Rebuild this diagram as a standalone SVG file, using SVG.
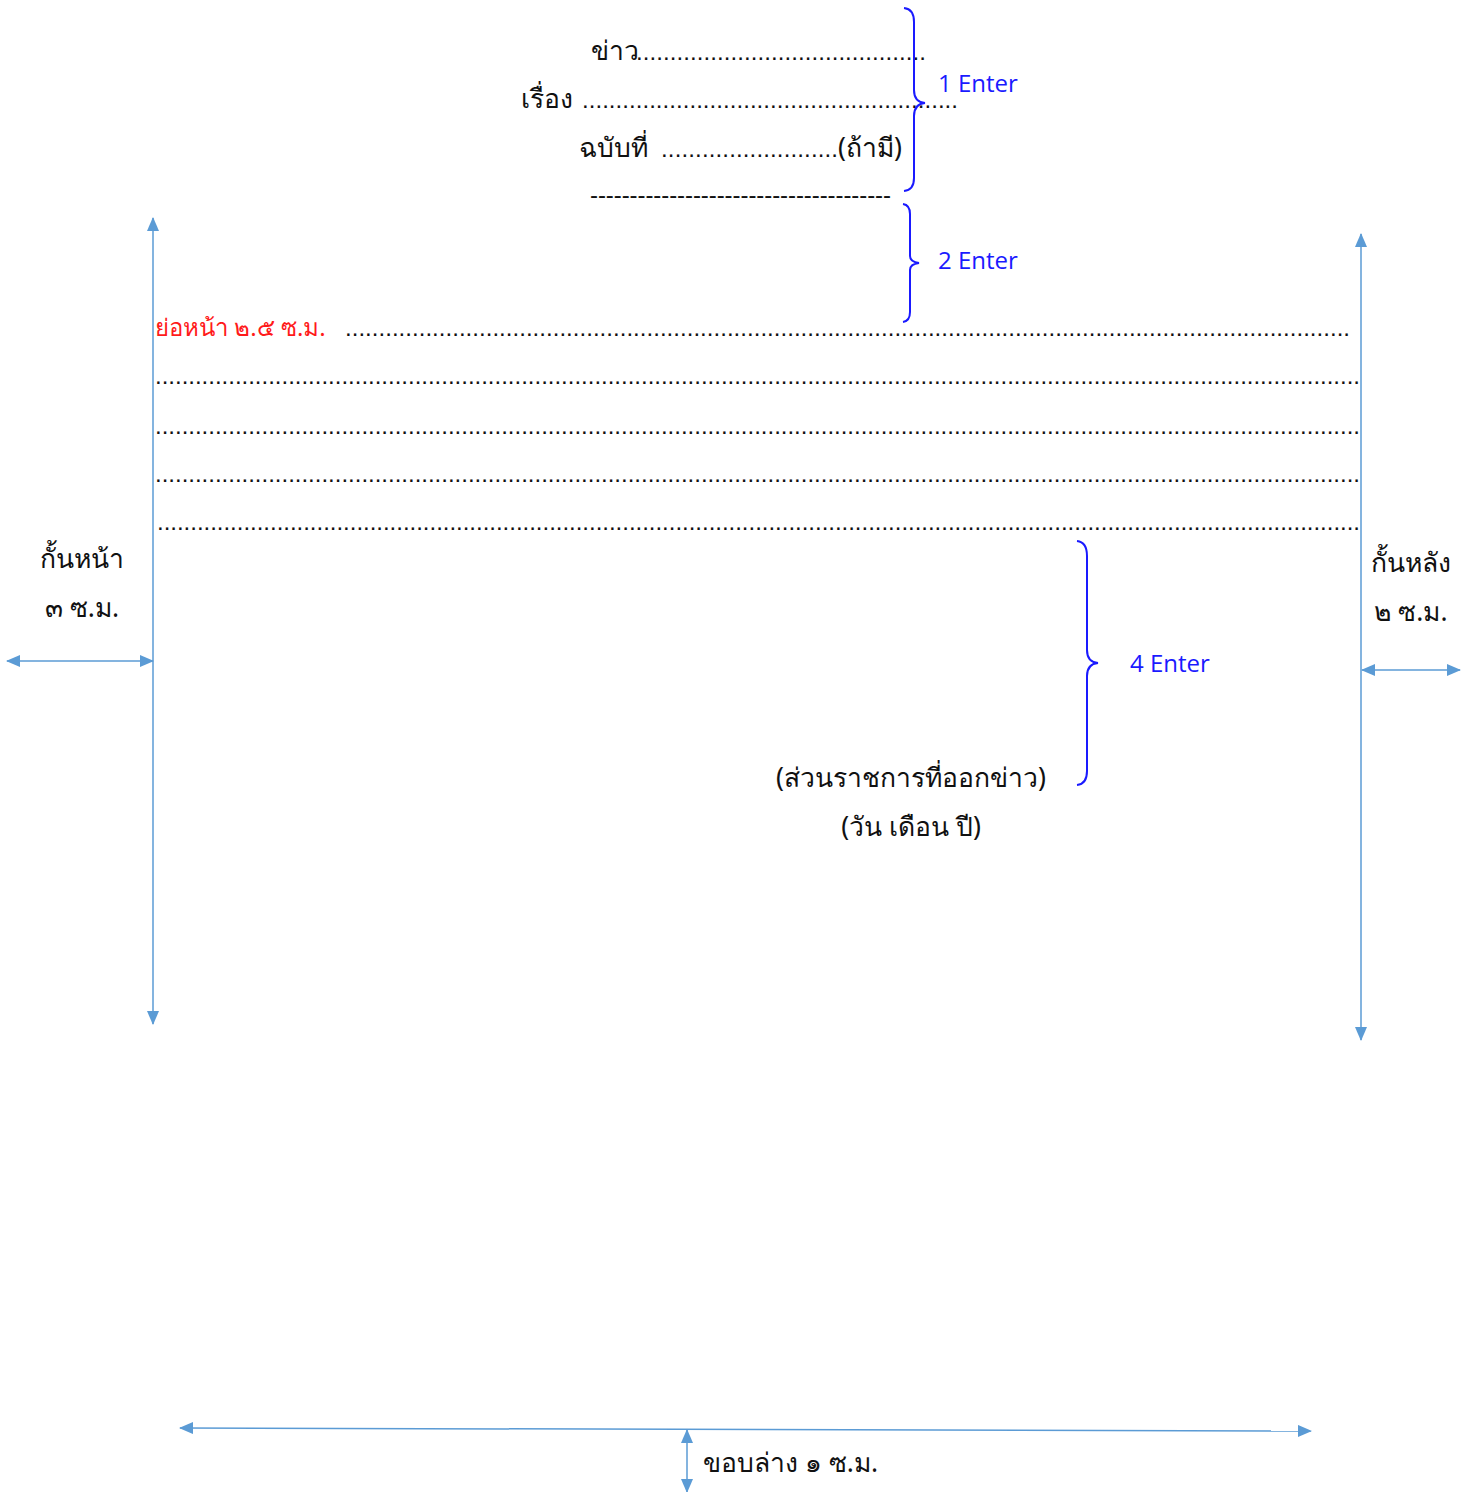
<svg xmlns="http://www.w3.org/2000/svg" width="1473" height="1492" viewBox="0 0 1473 1492">
<style>
.th{font-family:"Noto Sans","DejaVu Sans",sans-serif;font-size:26.5px;fill:#111}
.en{font-family:"Open Sans","Noto Sans",sans-serif;font-size:24px;fill:#1a1aff}
.red{font-family:"Noto Sans","DejaVu Sans",sans-serif;font-size:24px;fill:#ff1a1a}
.dots{font-family:"Liberation Sans",sans-serif;font-size:24px;fill:#111}
.brace{fill:none;stroke:#1a1aff;stroke-width:2}
.arr{stroke:#5b9bd5;stroke-width:1.5;fill:none}
</style>
<defs>
<marker id="ah" viewBox="0 0 14 12" refX="13" refY="6" markerWidth="14" markerHeight="12" markerUnits="userSpaceOnUse" orient="auto-start-reverse">
<path d="M0,0 L14,6 L0,12 Z" fill="#5b9bd5"/>
</marker>
</defs>
<g id="header">
<text class="th" x="591" y="60">ข่าว</text>
<text class="dots" x="636" y="60" textLength="290" lengthAdjust="spacing">...........................................</text>
<text class="th" x="521" y="108">เรื่อง</text>
<text class="dots" x="582" y="108" textLength="376" lengthAdjust="spacing">........................................................</text>
<text class="th" x="579" y="157">ฉบับที่</text>
<text class="dots" x="661" y="157" textLength="177" lengthAdjust="spacing">..........................</text>
<text class="th" x="838" y="157">(ถ้ามี)</text>
<text class="dots" x="590" y="203" textLength="301" lengthAdjust="spacing">--------------------------------------</text>
</g>
<g id="brace1">
<path class="brace" d="M904,8 Q914,9 914,22 L914,90 Q914,102 925,103 Q914,104 914,116 L914,178 Q914,190 904,191"/>
<text class="en" x="938" y="92">1 Enter</text>
</g>
<g id="brace2">
<path class="brace" d="M903,204 Q910,205 910,214 L910,256 Q910,262 919,263 Q910,264 910,270 L910,312 Q910,321 903,322"/>
<text class="en" x="938" y="269">2 Enter</text>
</g>
<g id="body">
<text class="red" x="155" y="336">ย่อหน้า ๒.๕ ซ.ม.</text>
<text class="dots" x="345" y="336" textLength="1005" lengthAdjust="spacing">......................................................................................................................................................</text>
<text class="dots" x="155" y="384" textLength="1205" lengthAdjust="spacing">.....................................................................................................................................................................................</text>
<text class="dots" x="155" y="434" textLength="1205" lengthAdjust="spacing">.....................................................................................................................................................................................</text>
<text class="dots" x="155" y="482" textLength="1205" lengthAdjust="spacing">.....................................................................................................................................................................................</text>
<text class="dots" x="157" y="530" textLength="1203" lengthAdjust="spacing">.....................................................................................................................................................................................</text>
</g>
<g id="brace4">
<path class="brace" d="M1077,541 Q1087,542 1087,556 L1087,650 Q1087,662 1098,663 Q1087,664 1087,676 L1087,771 Q1087,784 1077,785"/>
<text class="en" x="1130" y="672">4 Enter</text>
</g>
<g id="signature">
<text class="th" x="911" y="787" text-anchor="middle">(ส่วนราชการที่ออกข่าว)</text>
<text class="th" x="911" y="836" text-anchor="middle">(วัน เดือน ปี)</text>
</g>
<g id="left-margin">
<text class="th" x="82" y="568" text-anchor="middle">กั้นหน้า</text>
<text class="th" x="82" y="617" text-anchor="middle">๓ ซ.ม.</text>
</g>
<g id="right-margin">
<text class="th" x="1411" y="572" text-anchor="middle">กั้นหลัง</text>
<text class="th" x="1411" y="621" text-anchor="middle">๒ ซ.ม.</text>
</g>
<g id="bottom-margin">
<text class="th" x="703" y="1472">ขอบล่าง ๑ ซ.ม.</text>
</g>
<g id="connectors">
<line class="arr" x1="153" y1="1024" x2="153" y2="218" marker-start="url(#ah)" marker-end="url(#ah)"/>
<line class="arr" x1="1361" y1="1040" x2="1361" y2="234" marker-start="url(#ah)" marker-end="url(#ah)"/>
<line class="arr" x1="7" y1="661" x2="153" y2="661" marker-start="url(#ah)" marker-end="url(#ah)"/>
<line class="arr" x1="1362" y1="670" x2="1460" y2="670" marker-start="url(#ah)" marker-end="url(#ah)"/>
<line class="arr" x1="180" y1="1428" x2="1311" y2="1431" marker-start="url(#ah)" marker-end="url(#ah)"/>
<line class="arr" x1="687" y1="1430" x2="687" y2="1492" marker-start="url(#ah)" marker-end="url(#ah)"/>
</g>
</svg>
